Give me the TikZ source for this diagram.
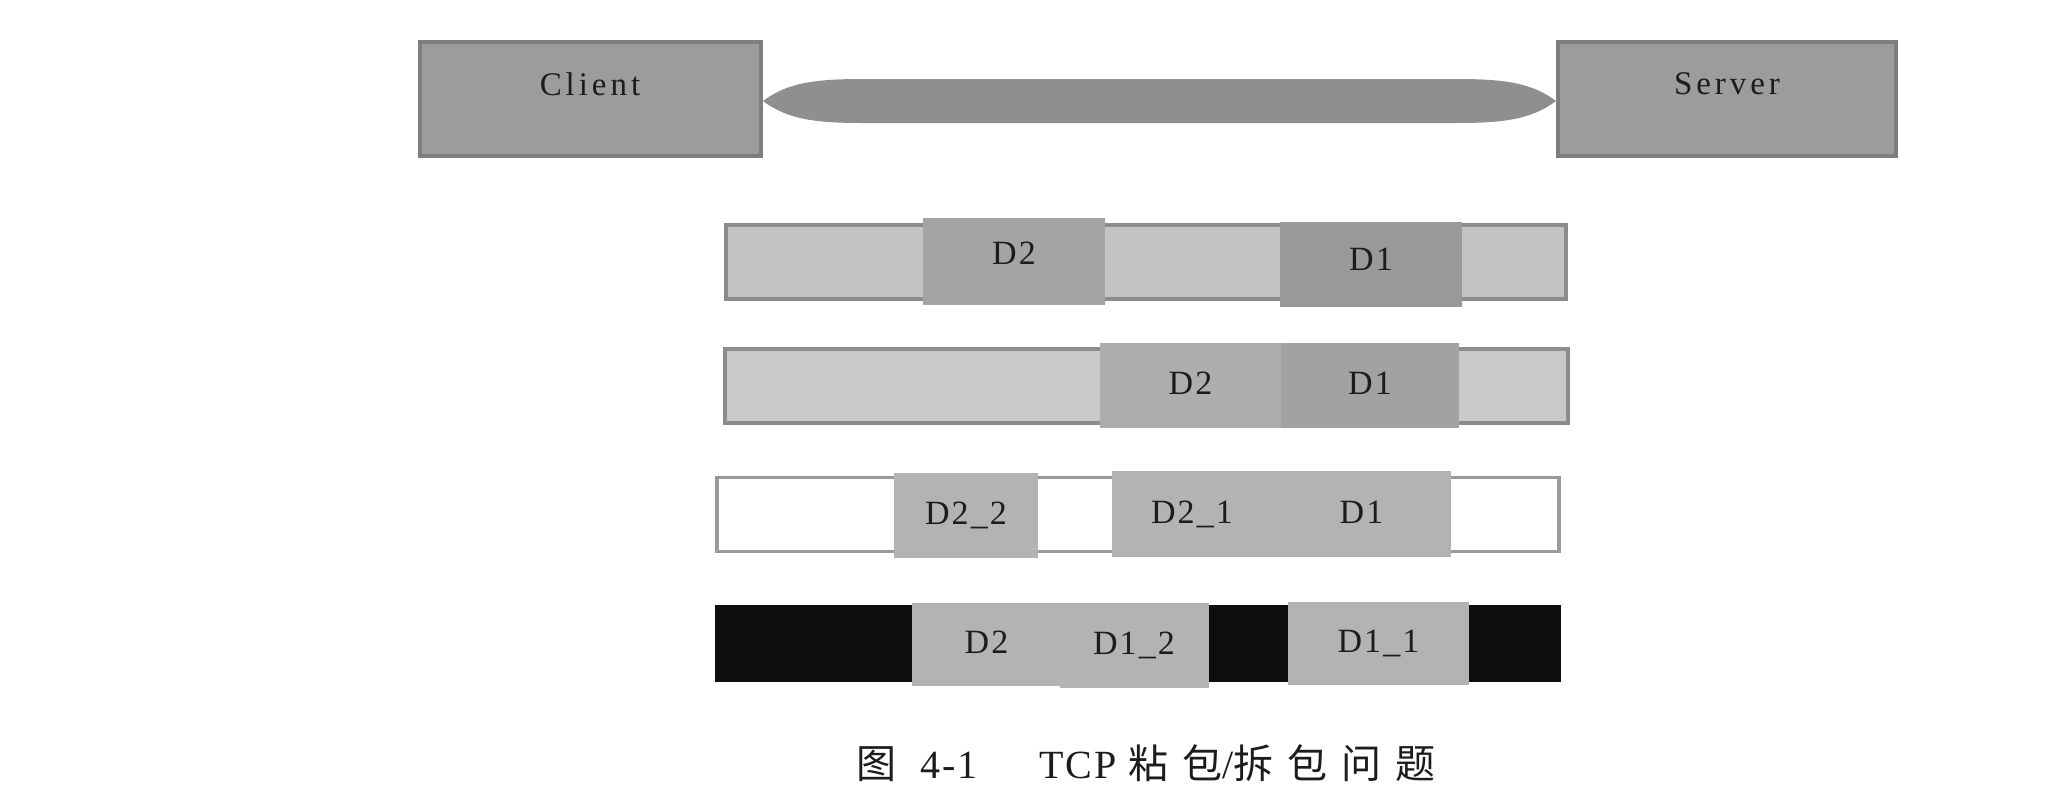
\documentclass[tikz,border=0pt]{standalone}
\usepackage{fontspec}
\setmainfont{Liberation Serif}
\newfontfamily\hostfont[LetterSpace=12]{Liberation Serif}
\newfontfamily\lblfont[LetterSpace=6]{Liberation Serif}
\newfontfamily\capfont[LetterSpace=5]{Liberation Serif}
\newfontfamily\cjkfont[LetterSpace=35]{Noto Sans CJK SC}
\usetikzlibrary{calc}
\definecolor{hostfill}{HTML}{9C9C9C}
\definecolor{hostedge}{HTML}{7E7E7E}
\definecolor{pipefill}{HTML}{8F8F8F}
\definecolor{txt}{HTML}{1C1C1C}
\definecolor{bgA}{HTML}{C3C3C3}
\definecolor{bgB}{HTML}{C9C9C9}
\definecolor{bgedge}{HTML}{8C8C8C}
\definecolor{blkA}{HTML}{A4A4A4}
\definecolor{blkAd}{HTML}{999999}
\definecolor{blkB}{HTML}{ADADAD}
\definecolor{blkBd}{HTML}{A2A2A2}
\definecolor{blkC}{HTML}{B3B3B3}
\definecolor{whiteedge}{HTML}{9A9A9A}
\definecolor{nearblack}{HTML}{0E0E0E}
\tikzset{
  host/.style={draw=hostedge, line width=4pt, fill=hostfill, inner sep=0pt, minimum height=114pt},
  hosttext/.style={text=txt, font=\hostfont\fontsize{33}{33}\selectfont, inner sep=0pt},
  rowbg/.style={line width=3.5pt, inner sep=0pt, minimum width=840pt, minimum height=74pt},
  blk/.style={inner sep=0pt, text=txt, font=\lblfont\fontsize{34}{34}\selectfont, text height=22pt, text depth=4pt},
  captxt/.style={text=txt, inner sep=0pt}
}
\begin{document}
\begin{tikzpicture}[x=1pt,y=-1pt]
\useasboundingbox (0,0) rectangle (2068,796);
\fill[white] (0,0) rectangle (2068,796);

% hosts
\node[host, minimum width=341pt] (client) at (590.5,99) {};
\node[host, minimum width=338pt] (server) at (1727,99) {};
\node[hosttext] (clientlbl) at (590,84) {Client};
\node[hosttext] (serverlbl) at (1727,84) {Server};

% pipe between client and server
\coordinate (pl) at ($(client.east)+(0,2)$);
\coordinate (pr) at ($(server.west)+(0,2)$);
\fill[pipefill] (pl) .. controls ($(pl)+(25,-19)$) and ($(pl)+(55,-22)$) .. ($(pl)+(100,-22)$)
   -- ($(pr)+(-100,-22)$) .. controls ($(pr)+(-55,-22)$) and ($(pr)+(-25,-19)$) .. (pr)
   .. controls ($(pr)+(-25,19)$) and ($(pr)+(-55,22)$) .. ($(pr)+(-100,22)$)
   -- ($(pl)+(100,22)$) .. controls ($(pl)+(55,22)$) and ($(pl)+(25,19)$) .. (pl) -- cycle;

% row 1
\node[rowbg, draw=bgedge, fill=bgA, minimum width=840pt] (r1) at (1146,262) {};
\node[blk, fill=blkA, minimum width=182pt, minimum height=87pt] (r1d2) at (1014,261.5) {\raisebox{6pt}{D2}};
\node[blk, fill=blkAd, minimum width=182pt, minimum height=85pt] (r1d1) at (1371,264.5) {\raisebox{3pt}{D1}};

% row 2
\node[rowbg, draw=bgedge, fill=bgB, minimum width=843pt] (r2) at (1146.5,386) {};
\node[blk, fill=blkB, minimum width=181pt, minimum height=85pt] (r2d2) at (1190.5,385.5) {D2};
\node[blk, fill=blkBd, minimum width=178pt, minimum height=85pt] (r2d1) at (1370,385.5) {D1};

% row 3
\node[rowbg, draw=whiteedge, fill=white, minimum width=842pt] (r3) at (1138,514.5) {};
\node[blk, fill=blkC, minimum width=144pt, minimum height=85pt] (r3d22) at (966,515.5) {D2\_2};
\node[blk, fill=blkC, minimum width=160pt, minimum height=86pt] (r3d21) at (1192,514) {D2\_1};
\node[blk, fill=blkC, minimum width=179pt, minimum height=86pt] (r3d1) at (1361.5,514) {D1};

% row 4
\node[rowbg, draw=nearblack, fill=nearblack, minimum width=842pt] (r4) at (1138,643.5) {};
\node[blk, fill=blkC, minimum width=149pt, minimum height=83pt] (r4d2) at (986.5,644.5) {D2};
\node[blk, fill=blkC, minimum width=149pt, minimum height=85pt] (r4d12) at (1134,645.5) {D1\_2};
\node[blk, fill=blkC, minimum width=181pt, minimum height=83pt] (r4d11) at (1378.5,643.5) {D1\_1};

% caption
\node[captxt, font=\capfont\fontsize{40}{40}\selectfont] (cap) at (1146,763)
  {{\cjkfont 图}\hspace{24pt}4-1\hspace{62pt}TCP\hspace{12pt}{\cjkfont 粘包}/{\cjkfont 拆包问题}};
\end{tikzpicture}
\end{document}
